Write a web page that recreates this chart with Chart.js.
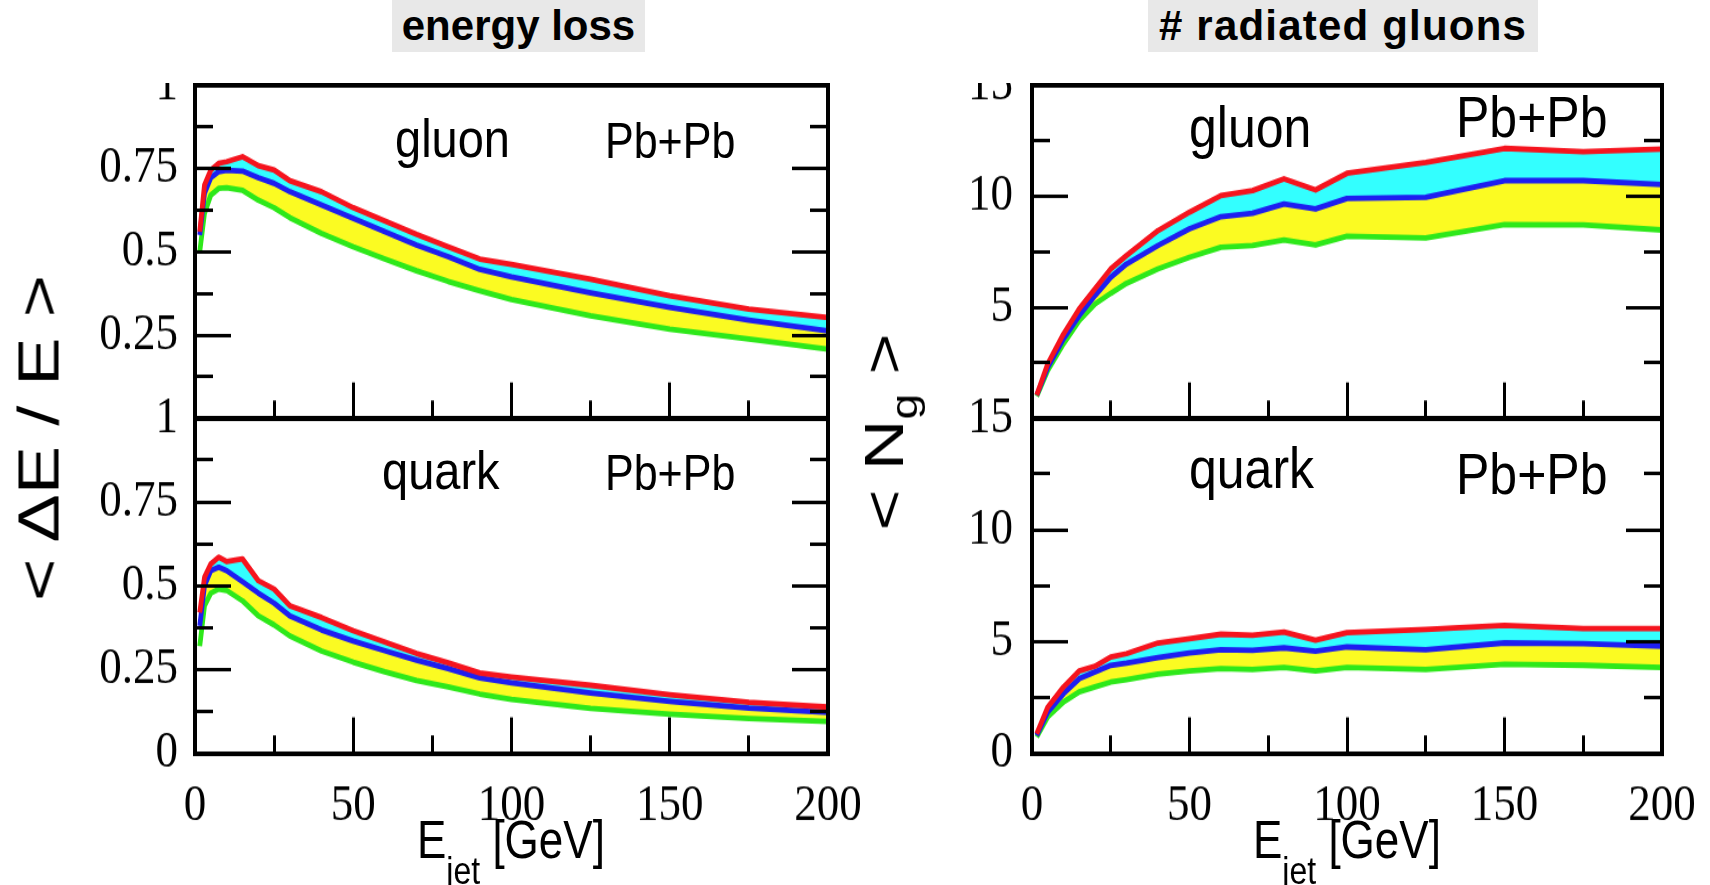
<!DOCTYPE html>
<html><head><meta charset="utf-8">
<script src="https://cdn.jsdelivr.net/npm/chart.js@4"></script>
<style>
html,body{margin:0;padding:0;background:#fff;}
body{width:1710px;height:885px;position:relative;overflow:hidden;font-family:'Liberation Sans',Arial,sans-serif;}
canvas{position:absolute;}
.t{position:absolute;white-space:nowrap;line-height:1;color:#000;z-index:5;}
.box{position:absolute;background:#e8e8e8;font-weight:bold;font-size:42px;text-align:center;line-height:52px;height:52px;top:0;color:#000;z-index:5;white-space:nowrap;}
</style></head><body>
<script>
// ---------- data ----------
const E_LOSS = [1.5,3,5,7.5,10,15,20,25,30,40,50,60,70,80,90,100,125,150,175,200];
const gluonLossHigh = [0.56,0.70,0.745,0.765,0.77,0.785,0.758,0.745,0.713,0.68,0.632,0.592,0.552,0.515,0.478,0.462,0.418,0.368,0.328,0.303];
const gluonLossMid  = [0.55,0.675,0.722,0.74,0.744,0.742,0.722,0.705,0.68,0.64,0.60,0.56,0.52,0.485,0.447,0.425,0.377,0.333,0.295,0.263];
const gluonLossLow  = [0.50,0.615,0.67,0.69,0.692,0.684,0.655,0.632,0.602,0.555,0.515,0.478,0.443,0.411,0.383,0.357,0.308,0.268,0.238,0.208];
const quarkLossHigh = [0.42,0.525,0.565,0.585,0.572,0.58,0.515,0.49,0.44,0.405,0.366,0.332,0.298,0.27,0.24,0.228,0.203,0.175,0.152,0.138];
const quarkLossMid  = [0.38,0.50,0.545,0.555,0.545,0.512,0.478,0.448,0.41,0.368,0.335,0.306,0.278,0.253,0.225,0.21,0.18,0.155,0.135,0.122];
const quarkLossLow  = [0.32,0.44,0.478,0.49,0.486,0.455,0.41,0.383,0.35,0.305,0.272,0.243,0.217,0.198,0.177,0.161,0.134,0.117,0.104,0.095];

const E_NG = [1.5,5,10,15,20,25,30,40,50,60,70,80,90,100,125,150,175,200];
const gluonNgHigh = [1.05,2.46,3.8,4.93,5.83,6.73,7.33,8.45,9.28,10.03,10.25,10.78,10.28,11.03,11.52,12.15,12.0,12.12];
const gluonNgMid  = [1.05,2.3,3.58,4.63,5.53,6.35,6.95,7.78,8.53,9.08,9.23,9.65,9.43,9.9,9.95,10.7,10.7,10.52];
const gluonNgLow  = [1.0,2.16,3.36,4.4,5.15,5.63,6.08,6.73,7.25,7.7,7.78,8.03,7.81,8.2,8.12,8.72,8.71,8.48];
const quarkNgHigh = [0.88,2.07,2.97,3.69,3.9,4.31,4.46,4.94,5.13,5.33,5.28,5.43,5.06,5.4,5.54,5.73,5.58,5.58];
const quarkNgMid  = [0.8,1.85,2.67,3.34,3.64,3.94,4.04,4.28,4.49,4.64,4.61,4.72,4.57,4.76,4.64,4.94,4.91,4.79];
const quarkNgLow  = [0.73,1.63,2.3,2.75,2.97,3.19,3.3,3.54,3.69,3.79,3.75,3.84,3.69,3.84,3.75,3.99,3.94,3.84];

const xTickLabels = ['0','50','100','150','200'];
const lossLabelsTop = ['','0.25','0.5','0.75','1'];
const lossLabelsBottom = ['0','0.25','0.5','0.75','1'];
const ngLabelsTop = ['','5','10','15'];
const ngLabelsBottom = ['0','5','10','15'];

// ---------- helpers ----------
const RED='#f5141e', CYAN='#33ffff', BLUE='#1e1ef0', YELLOW='#fbfb22', GREEN='#2ee81a';
const S = 1.16;   // vertical stretch of the figure
const serif = {family:"'Liberation Serif','Times New Roman',serif", size:45, lineHeight:1.2};

function tickGrid(len){ return {display:true, drawOnChartArea:false, drawTicks:true, tickLength:len, tickWidth:3, tickColor:'#000', z:1}; }

function makePanel(o){
  const c = document.createElement('canvas');
  const attrH = Math.round((o.bottom - o.top)/S);
  c.width = o.w; c.height = attrH;
  c.style.left = o.left+'px'; c.style.top = o.top+'px';
  c.style.width = o.w+'px'; c.style.height = (attrH*S)+'px';
  document.body.appendChild(c);
  const padTop = (o.ft - o.top)/S;
  const bottomH = attrH - (o.fb - o.top)/S;
  const leftW = o.fl - o.left;
  const padRight = o.left + o.w - o.fr;
  const pts = arr => o.xs.map((x,i)=>({x:x, y:arr[i]}));
  const ds = (arr,color,fill,bg) => ({data:pts(arr), borderColor:color, borderWidth:4.8, pointRadius:0, tension:0,
      borderJoinStyle:'round', fill:fill, backgroundColor:bg, xAxisID:'x', yAxisID:'y'});
  const noPad = s => { s.paddingLeft=0; s.paddingRight=0; s.paddingTop=0; s.paddingBottom=0; };
  const bord = {display:true, color:'#000', width:4, z:1};
  new Chart(c, {
    type:'line',
    data:{datasets:[
      ds(o.hi, RED, false, 'rgba(0,0,0,0)'),
      ds(o.mid, BLUE, '-1', CYAN),
      ds(o.lo, GREEN, '-1', YELLOW)
    ]},
    options:{
      responsive:false, animation:false, devicePixelRatio:1, events:[],
      layout:{padding:{left:0, top:padTop, right:padRight, bottom:0}},
      plugins:{legend:{display:false}, tooltip:{enabled:false}, title:{display:false}},
      scales:{
        x:{type:'linear', position:'bottom', min:0, max:200, weight:1,
           ticks:{stepSize:50, display:o.showX, padding:50, font:serif, color:'#000', autoSkip:false, maxRotation:0,
                  callback:(v,i)=>xTickLabels[i]},
           grid:tickGrid(-36/S), border:bord,
           afterFit:s=>{ s.height=bottomH; noPad(s); }},
        xm:{type:'linear', position:'bottom', min:0, max:200, weight:0,
           ticks:{stepSize:25, display:false}, grid:tickGrid(-18/S), border:{display:false},
           afterFit:s=>{ s.height=0; noPad(s); }},
        xt:{type:'linear', position:'top', min:0, max:200,
           ticks:{display:false}, grid:{display:false}, border:bord,
           afterFit:s=>{ s.height=0; noPad(s); }},
        y:{type:'linear', position:'left', min:0, max:o.yMax, weight:1,
           ticks:{stepSize:o.yStep, padding:o.lp, font:serif, color:'#000', autoSkip:false,
                  callback:(v,i)=>o.yLabels[i]},
           grid:tickGrid(-36), border:bord,
           afterFit:s=>{ s.width=leftW; noPad(s); }},
        ym:{type:'linear', position:'left', min:0, max:o.yMax, weight:0,
           ticks:{stepSize:o.yStep/2, display:false}, grid:tickGrid(-18), border:{display:false},
           afterFit:s=>{ s.width=0; noPad(s); }},
        yr:{type:'linear', position:'right', min:0, max:o.yMax, weight:0,
           ticks:{stepSize:o.yStep, display:false}, grid:tickGrid(-36), border:bord,
           afterFit:s=>{ s.width=0; noPad(s); }},
        yrm:{type:'linear', position:'right', min:0, max:o.yMax, weight:1,
           ticks:{stepSize:o.yStep/2, display:false}, grid:tickGrid(-18), border:{display:false},
           afterFit:s=>{ s.width=0; noPad(s); }}
      }
    }
  });
}

// frames: left column x 195..828 ; right column 1032..1662 ; rows 85..418 and 418..753
makePanel({left:0, top:83, w:860, bottom:428, fl:195, fr:828, ft:85, fb:418, lp:53, showX:false,
  xs:E_LOSS, hi:gluonLossHigh, mid:gluonLossMid, lo:gluonLossLow, yMax:1, yStep:0.25, yLabels:lossLabelsTop});
makePanel({left:0, top:395, w:860, bottom:885, fl:195, fr:828, ft:418, fb:753, lp:53, showX:true,
  xs:E_LOSS, hi:quarkLossHigh, mid:quarkLossMid, lo:quarkLossLow, yMax:1, yStep:0.25, yLabels:lossLabelsBottom});
makePanel({left:860, top:83, w:850, bottom:428, fl:1032, fr:1662, ft:85, fb:418, lp:55, showX:false,
  xs:E_NG, hi:gluonNgHigh, mid:gluonNgMid, lo:gluonNgLow, yMax:15, yStep:5, yLabels:ngLabelsTop});
makePanel({left:860, top:395, w:850, bottom:885, fl:1032, fr:1662, ft:418, fb:753, lp:55, showX:true,
  xs:E_NG, hi:quarkNgHigh, mid:quarkNgMid, lo:quarkNgLow, yMax:15, yStep:5, yLabels:ngLabelsBottom});

// ---------- text ----------
function txt(html, x, baseline, size, sy){
  const d = document.createElement('div');
  d.className='t';
  d.innerHTML = html;
  d.style.fontSize = size+'px';
  d.style.left = x+'px';
  d.style.top = (baseline - 0.847*size)+'px';
  d.style.transformOrigin = '0 '+(0.847*size)+'px';
  d.style.transform = 'scaleY('+(sy||1)+')';
  document.body.appendChild(d);
  return d;
}
function box(text, left, width, ls){
  const d = document.createElement('div');
  d.className='box'; d.textContent=text;
  d.style.left=left+'px'; d.style.width=width+'px';
  if (ls) d.style.letterSpacing = ls+'px';
  document.body.appendChild(d);
}
box('energy loss', 392, 253);
box('# radiated gluons', 1148, 390, 1.2);

txt('gluon', 395, 157, 47, S);
txt('Pb+Pb', 605, 158, 43, S);
txt('quark', 382, 489, 47, S);
txt('Pb+Pb', 605, 490, 43, S);
txt('gluon', 1189, 147, 50, S);
txt('Pb+Pb', 1456, 137, 50, S);
txt('quark', 1189, 488, 50, S);
txt('Pb+Pb', 1456, 494, 50, S);

function xTitle(cx){
  const d = txt('E<span style="font-size:32px;position:relative;top:21px">jet</span> [GeV]', 0, 858, 44, 1.22);
  d.style.left = (cx - d.offsetWidth/2)+'px';
}
xTitle(511); xTitle(1347);

function yTitle(html, cx, cy, size, sx){
  const d = document.createElement('div');
  d.className='t'; d.innerHTML=html; d.style.fontSize=size+'px';
  d.style.left=cx+'px'; d.style.top=cy+'px';
  d.style.transform='translate(-50%,-50%) rotate(-90deg) scaleX('+sx+')';
  document.body.appendChild(d);
}
yTitle('&lt; &Delta;E / E &gt;', 39, 438, 57, 1.27);
yTitle('&lt; N<span style="font-size:37px;position:relative;top:14px">g</span> &gt;', 884, 432, 56, 1.25);
</script>
</body></html>
